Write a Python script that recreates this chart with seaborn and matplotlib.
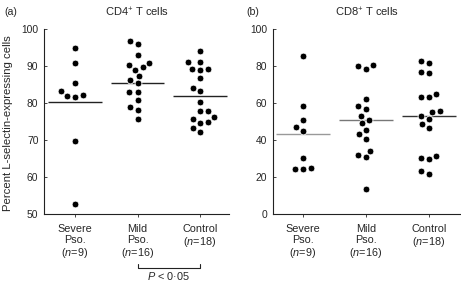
import numpy as np
import pandas as pd
import matplotlib
matplotlib.use("Agg")
import matplotlib.pyplot as plt
import matplotlib.transforms as mtrans
import seaborn as sns

# ---- data ----
groups = ["Severe", "Mild", "Control"]
tick_labels = ["Severe\nPso.\n($\\it{n}$=9)", "Mild\nPso.\n($\\it{n}$=16)", "Control\n($\\it{n}$=18)"]

cd4_severe = [94.8, 90.7, 85.4, 83.2, 82.2, 82.0, 81.5, 69.7, 52.6]
cd4_mild = [96.7, 96.0, 93.1, 90.9, 90.4, 89.6, 89.0, 87.3, 86.3, 85.3, 83.0, 83.0,
            80.9, 78.8, 78.2, 75.7]
cd4_control = [94.0, 91.0, 91.0, 89.3, 89.3, 88.9, 86.8, 84.1, 83.2, 80.3, 77.8, 77.8,
               76.1, 75.6, 74.8, 74.5, 73.3, 72.1]
cd4_means = [80.4, 85.5, 82.0]

cd8_severe = [85.5, 58.2, 50.6, 47.0, 45.0, 30.5, 24.3, 24.6, 24.3]
cd8_mild = [80.5, 80.2, 78.5, 62.0, 58.4, 56.9, 53.1, 50.8, 49.0, 45.4, 43.0, 40.4,
            34.0, 32.1, 30.6, 13.5]
cd8_control = [82.5, 81.4, 76.6, 76.1, 64.9, 63.4, 63.4, 55.8, 55.3, 53.2, 51.5, 48.6,
               46.6, 31.2, 30.3, 29.6, 23.1, 21.6]
cd8_means = [43.4, 50.6, 52.8]

panel_labels = ["(a)", "(b)"]
titles = ["CD4$^{+}$ T cells", "CD8$^{+}$ T cells"]
ylabel = "Percent L-selectin-expressing cells"
p_text = "$\\it{P}$ < 0·05"

# ---- styling ----
sns.set_theme(style="ticks")
plt.rcParams["font.family"] = ["Liberation Sans", "DejaVu Sans"]
plt.rcParams["mathtext.fontset"] = "custom"
plt.rcParams["mathtext.rm"] = "Liberation Sans"
plt.rcParams["mathtext.it"] = "Liberation Sans:italic"
plt.rcParams["mathtext.bf"] = "Liberation Sans:bold"

W, H = 461, 283
fig = plt.figure(figsize=(W / 100, H / 100), dpi=100)

def make_df(a, b, c):
    return pd.DataFrame({
        "group": [groups[0]] * len(a) + [groups[1]] * len(b) + [groups[2]] * len(c),
        "value": list(a) + list(b) + list(c),
    })

df4 = make_df(cd4_severe, cd4_mild, cd4_control)
df8 = make_df(cd8_severe, cd8_mild, cd8_control)

axL = fig.add_axes([44 / W, 1 - 214 / H, 185 / W, 185 / H])
axR = fig.add_axes([272.7 / W, 1 - 214 / H, 187.3 / W, 185 / H])

def draw(ax, df, means, ylim, yticks, xlim, line_colors):
    ax.hlines(means, np.arange(3) - 0.43, np.arange(3) + 0.43,
              colors=line_colors, linewidth=1.0, zorder=1)
    sns.swarmplot(data=df, x="group", y="value", order=groups, ax=ax,
                  color="black", size=4.9, edgecolor="white", linewidth=0.6, zorder=3)
    ax.set_ylim(*ylim)
    ax.set_xlim(*xlim)
    ax.set_yticks(yticks)
    ax.set_xlabel("")
    ax.set_ylabel("")
    ax.set_xticks(range(3))
    ax.set_xticklabels(tick_labels, fontsize=7.8, linespacing=1.15)
    ax.tick_params(axis="y", direction="in", length=2, width=0.6, labelsize=7.4, pad=4)
    ax.tick_params(axis="x", direction="out", length=2, width=0.6, pad=5)
    for s in ["top", "right"]:
        ax.spines[s].set_visible(False)
    for s in ["left", "bottom"]:
        ax.spines[s].set_linewidth(0.8)
        ax.spines[s].set_color("#222222")

draw(axL, df4, cd4_means, (50, 100), [50, 60, 70, 80, 90, 100], (-0.496, 2.464),
     ["#222222", "#222222", "#222222"])
draw(axR, df8, cd8_means, (0, 100), [0, 20, 40, 60, 80, 100], (-0.476, 2.497),
     ["#999999", "#777777", "#333333"])

# titles and panel labels
fig.text(4 / W, 1 - 12 / H, panel_labels[0], fontsize=7.6, va="center", ha="left")
fig.text(137 / W, 1 - 12 / H, titles[0], fontsize=8, va="center", ha="center")
fig.text(246 / W, 1 - 12 / H, panel_labels[1], fontsize=7.6, va="center", ha="left")
fig.text(367 / W, 1 - 12 / H, titles[1], fontsize=8, va="center", ha="center")
fig.text(8 / W, 1 - 123 / H, ylabel, fontsize=8.2, rotation=90, va="center", ha="center")

# significance bracket between Mild and Control (left panel)
tr = mtrans.blended_transform_factory(axL.transData, fig.transFigure)
yb = 1 - 267.5 / H
yt = 1 - 264 / H
axL.plot([1, 1, 2, 2], [yt, yb, yb, yt], transform=tr, color="#222222",
         linewidth=0.8, clip_on=False)
axL.text(1.5, 1 - 276 / H, p_text, transform=tr, fontsize=7.8, ha="center", va="center")

fig.savefig("out.png", dpi=100)
